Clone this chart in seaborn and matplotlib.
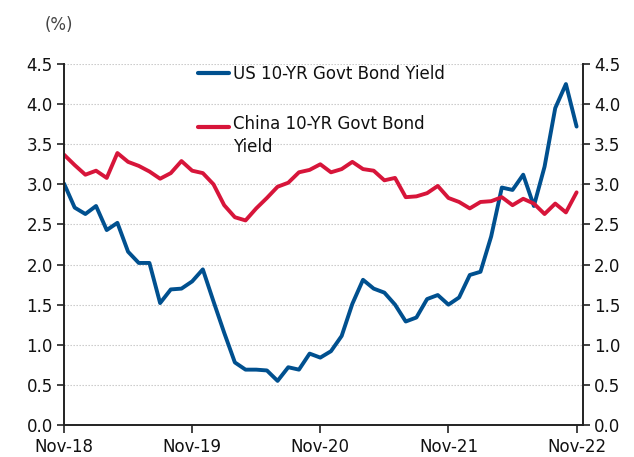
import numpy as np
import pandas as pd
import matplotlib
matplotlib.use("Agg")
import matplotlib.pyplot as plt
import seaborn as sns

# Monthly 10-year government bond yields (%), Nov-2018 .. Nov-2022
us_yield = [3.01, 2.71, 2.63, 2.73, 2.43, 2.52, 2.16, 2.02, 2.02, 1.52, 1.69, 1.70,
            1.79, 1.94, 1.54, 1.15, 0.78, 0.69, 0.69, 0.68, 0.55, 0.72, 0.69, 0.89,
            0.84, 0.92, 1.11, 1.51, 1.81, 1.70, 1.65, 1.50, 1.29, 1.34, 1.57, 1.62,
            1.50, 1.59, 1.87, 1.91, 2.35, 2.96, 2.93, 3.12, 2.73, 3.22, 3.95, 4.25,
            3.72]
china_yield = [3.37, 3.24, 3.12, 3.17, 3.08, 3.39, 3.28, 3.23, 3.16, 3.07, 3.14, 3.29,
               3.17, 3.14, 3.00, 2.74, 2.59, 2.55, 2.70, 2.83, 2.97, 3.02, 3.15, 3.18,
               3.25, 3.15, 3.19, 3.28, 3.19, 3.17, 3.05, 3.08, 2.84, 2.85, 2.89, 2.98,
               2.83, 2.78, 2.70, 2.78, 2.79, 2.84, 2.74, 2.82, 2.76, 2.63, 2.76, 2.65,
               2.90]
series_names = ["US 10-YR Govt Bond Yield", "China 10-YR Govt Bond\nYield"]
tick_labels = ["Nov-18", "Nov-19", "Nov-20", "Nov-21", "Nov-22"]
y_ticks = [0.0, 0.5, 1.0, 1.5, 2.0, 2.5, 3.0, 3.5, 4.0, 4.5]

months = np.arange(len(us_yield))
df = pd.DataFrame({
    "month": np.concatenate([months, months]),
    "yield": us_yield + china_yield,
    "series": [series_names[0]] * len(us_yield) + [series_names[1]] * len(china_yield),
})

sns.set_theme(style="white")
plt.rcParams["font.family"] = ["DejaVu Sans"]

fig = plt.figure(figsize=(6.34, 4.57), dpi=100)
ax = fig.add_axes([64 / 634, 32 / 457, (583 - 64) / 634, (425 - 64) / 457])

palette = {series_names[0]: "#00508F", series_names[1]: "#D7153A"}
sns.lineplot(data=df, x="month", y="yield", hue="series", palette=palette,
             linewidth=2.8, ax=ax, legend=True)

ax.set_xlim(0, 48.6)
ax.set_ylim(0, 4.5)
ax.set_xticks([0, 12, 24, 36, 48])
ax.set_xticklabels(tick_labels)
ax.set_yticks(y_ticks)
ax.set_yticklabels([f"{v:.1f}" for v in y_ticks])
ax.set_xlabel("")
ax.set_ylabel("")

for v in y_ticks[1:]:
    ax.axhline(v, color="#C4C4C4", linestyle=(0, (1.2, 1.5)), linewidth=0.8, zorder=0)

for side in ["left", "right", "bottom"]:
    ax.spines[side].set_visible(True)
    ax.spines[side].set_color("#222222")
    ax.spines[side].set_linewidth(1.4)
ax.spines["top"].set_visible(False)

ax.tick_params(axis="y", which="both", left=True, right=True, labelleft=True,
               labelright=True, direction="out", length=5, width=1.2,
               color="#222222", labelsize=12, labelcolor="#111111", pad=3)
ax.tick_params(axis="x", bottom=True, direction="out", length=6, width=1.2,
               color="#222222", labelsize=12, labelcolor="#111111", pad=3)

handles, labels = ax.get_legend_handles_labels()
leg = ax.legend(handles, labels, loc="upper left", bbox_to_anchor=(0.245, 1.016),
                frameon=False, fontsize=12, handlelength=1.9, handletextpad=0.2,
                labelspacing=1.95, borderaxespad=0.0)
for line in leg.get_lines():
    line.set_linewidth(3.0)
for t in leg.get_texts():
    t.set_color("#111111")
    t.set_linespacing(1.35)
# align the two-line entry's key with its first text line
china_key = leg.get_lines()[1]
china_key.set_ydata(np.asarray(china_key.get_ydata()) + 7.5)

fig.text(45 / 634, 1 - 25 / 457, "(%)", fontsize=12, color="#444444",
         ha="left", va="center")

fig.savefig("out.png", dpi=100)
